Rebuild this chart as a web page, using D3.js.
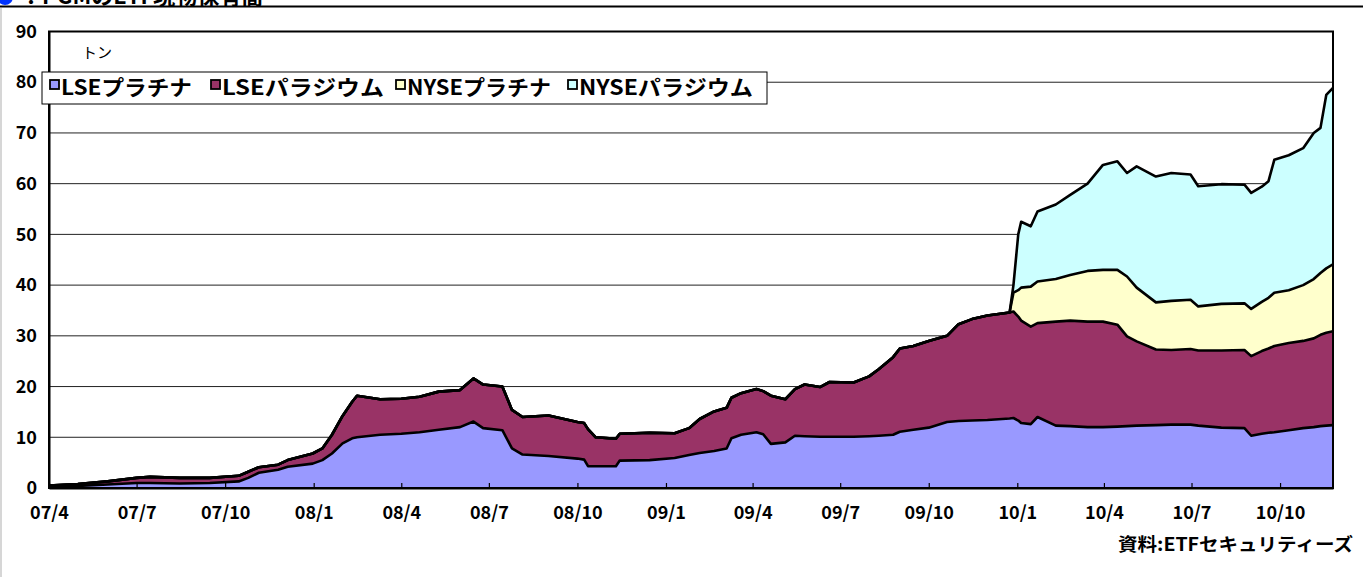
<!DOCTYPE html>
<html>
<head>
<meta charset="utf-8">
<script src="https://cdn.jsdelivr.net/npm/d3@7"></script>
<style>
  body { margin: 0; background: #fff; }
  svg { display: block; }
  text { font-family: "Noto Sans CJK JP", "Liberation Sans", sans-serif; }
</style>
</head>
<body>
<div id="chart"></div>
<script>
// dates of the weekly holdings (sampled)
const dates = [
  "2007-04-01","2007-05-01","2007-06-01","2007-07-01","2007-07-15","2007-08-15","2007-09-15","2007-10-15",
  "2007-10-25","2007-11-05","2007-11-25","2007-12-05","2007-12-31","2008-01-10","2008-01-20","2008-01-31",
  "2008-02-10","2008-02-15","2008-03-10","2008-04-01","2008-04-20","2008-05-10","2008-06-01","2008-06-15",
  "2008-06-25","2008-07-15","2008-07-25","2008-08-05","2008-09-01","2008-10-01","2008-10-08","2008-10-12",
  "2008-10-20","2008-11-10","2008-11-14","2008-12-15","2009-01-10","2009-01-25","2009-02-05","2009-02-20",
  "2009-03-05","2009-03-10","2009-03-20","2009-04-05","2009-04-12","2009-04-20","2009-05-05","2009-05-15",
  "2009-05-25","2009-06-10","2009-06-20","2009-07-15","2009-07-31","2009-08-10","2009-08-25","2009-09-01",
  "2009-09-15","2009-10-01","2009-10-20","2009-11-01","2009-11-15","2009-12-01","2009-12-24","2009-12-28",
  "2010-01-02","2010-01-05","2010-01-15","2010-01-22","2010-02-10","2010-02-25","2010-03-15","2010-03-31",
  "2010-04-15","2010-04-25","2010-05-05","2010-05-25","2010-06-10","2010-06-30","2010-07-08","2010-08-01",
  "2010-08-25","2010-09-01","2010-09-12","2010-09-19","2010-09-25","2010-10-10","2010-10-25","2010-11-05",
  "2010-11-12","2010-11-18","2010-11-25"
];

// tonnes held by each ETF
const lsePlatinum = [
  0.2,0.4,0.7,1.0,1.0,0.9,1.0,1.3,
  2.0,3.0,3.6,4.2,4.8,5.5,6.8,8.8,
  9.8,10.0,10.5,10.7,11.0,11.5,12.0,13.1,
  11.8,11.4,7.8,6.6,6.3,5.8,5.6,4.3,
  4.3,4.3,5.4,5.5,5.9,6.5,6.9,7.3,
  7.8,9.8,10.5,11.0,10.6,8.7,9.0,10.3,
  10.2,10.1,10.1,10.1,10.2,10.3,10.5,11.1,
  11.5,11.9,13.0,13.2,13.3,13.4,13.7,13.8,
  13.3,12.8,12.6,14.0,12.3,12.2,12.0,12.0,
  12.1,12.2,12.3,12.4,12.5,12.5,12.3,11.9,
  11.8,10.3,10.7,10.9,11.0,11.4,11.8,12.0,
  12.2,12.3,12.4
];
const lsePalladium = [
  0.3,0.4,0.6,1.0,1.2,1.1,1.0,1.1,
  1.2,1.1,1.0,1.3,2.0,2.3,3.7,5.4,
  7.2,8.2,7.0,6.9,7.0,7.5,7.3,8.5,
  8.6,8.6,7.6,7.4,8.0,7.2,7.2,7.3,
  5.7,5.4,5.3,5.4,4.9,5.3,6.7,7.8,
  8.0,8.0,8.2,8.5,8.5,9.5,8.5,9.2,
  10.2,9.8,10.8,10.7,11.8,13.1,15.3,16.4,
  16.5,17.1,17.0,19.1,20.0,20.6,20.9,21.0,
  20.5,20.2,19.2,18.5,20.5,20.8,20.8,20.8,
  20.1,17.7,16.6,14.9,14.7,14.9,14.8,15.2,
  15.4,15.7,16.3,16.6,17.0,17.2,17.2,17.5,
  18.0,18.3,18.5
];
const nysePlatinum = [
  0,0,0,0,0,0,0,0,
  0,0,0,0,0,0,0,0,
  0,0,0,0,0,0,0,0,
  0,0,0,0,0,0,0,0,
  0,0,0,0,0,0,0,0,
  0,0,0,0,0,0,0,0,
  0,0,0,0,0,0,0,0,
  0,0,0,0,0,0,0,3.7,
  5.2,6.5,7.9,8.2,8.4,9.0,10.0,10.2,
  10.8,11.8,10.6,9.3,9.7,9.7,8.7,9.2,
  9.2,9.3,9.7,10.0,10.5,10.4,11.0,11.7,
  12.2,12.7,13.2
];
const nysePalladium = [
  0,0,0,0,0,0,0,0,
  0,0,0,0,0,0,0,0,
  0,0,0,0,0,0,0,0,
  0,0,0,0,0,0,0,0,
  0,0,0,0,0,0,0,0,
  0,0,0,0,0,0,0,0,
  0,0,0,0,0,0,0,0,
  0,0,0,0,0,0,0,1.5,
  11.0,13.0,11.9,13.8,14.7,15.8,17.2,20.7,
  21.4,20.4,23.9,24.8,25.2,24.7,23.7,23.6,
  23.4,22.9,22.7,23.0,26.2,26.6,27.0,28.8,
  28.6,34.2,34.8
];

const seriesNames = ["LSEプラチナ", "LSEパラジウム", "NYSEプラチナ", "NYSEパラジウム"];
const seriesColors = ["#9999ff", "#993366", "#ffffcc", "#ccffff"];
const xTickDates = ["2007-04-01","2007-07-01","2007-10-01","2008-01-01","2008-04-01","2008-07-01","2008-10-01",
  "2009-01-01","2009-04-01","2009-07-01","2009-10-01","2010-01-01","2010-04-01","2010-07-01","2010-10-01"];
const yTicks = [0, 10, 20, 30, 40, 50, 60, 70, 80, 90];

const W = 1363, H = 577;
const PLOT = { LEFT: 49, RIGHT: 1333, TOP: 31.5, BOTTOM: 488 };
const parse = d3.utcParse("%Y-%m-%d");

const table = dates.map((d, i) => ({
  date: parse(d),
  s0: lsePlatinum[i], s1: lsePalladium[i], s2: nysePlatinum[i], s3: nysePalladium[i]
}));
const keys = ["s0", "s1", "s2", "s3"];
const stacked = d3.stack().keys(keys)(table);

const svg = d3.select("#chart").append("svg")
  .attr("width", W).attr("height", H);

// frame & title remains at the top (cut off in the original)
svg.append("line").attr("x1", 1).attr("x2", 1).attr("y1", 8).attr("y2", H)
  .attr("stroke", "#c8c8c8").attr("stroke-width", 1.5);
svg.append("circle").attr("cx", 5).attr("cy", -3).attr("r", 8).attr("fill", "#0033ff");
svg.append("text").attr("x", 20).attr("y", 4)
  .attr("font-size", 22).attr("font-weight", "bold").text("：PGMのETF現物保有高");
svg.append("line").attr("x1", 0).attr("x2", W).attr("y1", 6.5).attr("y2", 6.5)
  .attr("stroke", "#000").attr("stroke-width", 2);

const x = d3.scaleUtc()
  .domain([parse("2007-04-01"), parse("2010-11-25")])
  .range([PLOT.LEFT, PLOT.RIGHT]);
const y = d3.scaleLinear().domain([0, 90]).range([PLOT.BOTTOM, PLOT.TOP]);

// gridlines
svg.append("g").selectAll("line")
  .data(yTicks.filter(v => v > 0 && v < 90))
  .enter().append("line")
  .attr("x1", PLOT.LEFT).attr("x2", PLOT.RIGHT)
  .attr("y1", d => y(d)).attr("y2", d => y(d))
  .attr("stroke", "#222").attr("stroke-width", 1);

svg.append("defs").append("clipPath").attr("id", "clip")
  .append("rect").attr("x", PLOT.LEFT).attr("y", PLOT.TOP)
  .attr("width", PLOT.RIGHT - PLOT.LEFT).attr("height", PLOT.BOTTOM - PLOT.TOP);

const plot = svg.append("g").attr("clip-path", "url(#clip)");

const area = d3.area()
  .x(d => x(d.data.date))
  .y0(d => y(d[0]))
  .y1(d => y(d[1]));
const topLine = d3.line()
  .x(d => x(d.data.date))
  .y(d => y(d[1]));

plot.selectAll("path.area")
  .data(stacked)
  .enter().append("path")
  .attr("class", "area")
  .attr("d", area)
  .attr("fill", (d, i) => seriesColors[i]);

plot.selectAll("path.top")
  .data(stacked)
  .enter().append("path")
  .attr("class", "top")
  .attr("d", topLine)
  .attr("fill", "none")
  .attr("stroke", "#000")
  .attr("stroke-width", 2.6)
  .attr("stroke-linejoin", "round");

// plot border
svg.append("rect")
  .attr("x", PLOT.LEFT).attr("y", PLOT.TOP)
  .attr("width", PLOT.RIGHT - PLOT.LEFT).attr("height", PLOT.BOTTOM - PLOT.TOP)
  .attr("fill", "none").attr("stroke", "#000").attr("stroke-width", 2);

// x axis
const xAxis = svg.append("g")
  .attr("transform", "translate(0," + PLOT.BOTTOM + ")")
  .call(d3.axisBottom(x)
    .tickValues(xTickDates.map(parse))
    .tickSizeInner(-5).tickSizeOuter(0)
    .tickPadding(18)
    .tickFormat(d3.utcFormat("%y/%-m")));
xAxis.select(".domain").attr("stroke-width", 2);
xAxis.selectAll(".tick line").attr("stroke-width", 1.2);
xAxis.selectAll("text")
  .attr("font-size", 18).attr("font-weight", "bold")
  .attr("font-family", "'Noto Sans CJK JP', sans-serif").attr("fill", "#000");

// y axis
const yAxis = svg.append("g")
  .attr("transform", "translate(" + PLOT.LEFT + ",0)")
  .call(d3.axisLeft(y).tickValues(yTicks).tickSize(0).tickPadding(12));
yAxis.select(".domain").attr("stroke-width", 2);
yAxis.selectAll("text")
  .attr("font-size", 18).attr("font-weight", "bold")
  .attr("font-family", "'Noto Sans CJK JP', sans-serif").attr("fill", "#000");

// unit
svg.append("text").attr("x", 82).attr("y", 58).attr("font-size", 15).text("トン");

// legend
const legendX = [50, 211, 396, 568];
const legendTextW = [131, 162, 144, 174];
const legend = svg.append("g");
legend.append("rect").attr("x", 42).attr("y", 72).attr("width", 725).attr("height", 32)
  .attr("fill", "#fff").attr("stroke", "#000").attr("stroke-width", 1);
seriesNames.forEach((name, i) => {
  legend.append("rect").attr("x", legendX[i]).attr("y", 80).attr("width", 9).attr("height", 9)
    .attr("fill", seriesColors[i]).attr("stroke", "#000").attr("stroke-width", 1.8);
  legend.append("text").attr("x", legendX[i] + 11).attr("y", 95)
    .attr("font-size", 21).attr("font-weight", "bold")
    .attr("textLength", legendTextW[i]).attr("lengthAdjust", "spacingAndGlyphs")
    .text(name);
});

// source
svg.append("text").attr("x", 1353).attr("y", 551).attr("text-anchor", "end")
  .attr("font-size", 18).attr("font-weight", "bold")
  .attr("textLength", 235).attr("lengthAdjust", "spacingAndGlyphs")
  .text("資料:ETFセキュリティーズ");
</script>
</body>
</html>
